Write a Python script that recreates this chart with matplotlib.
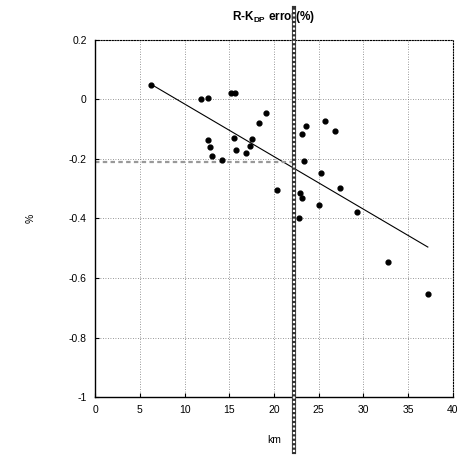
import matplotlib
matplotlib.use("Agg")
import matplotlib.pyplot as plt
import numpy as np

plt.rcParams['font.family'] = ['Liberation Sans', 'DejaVu Sans']

km = [6.3, 11.8, 12.6, 15.2, 15.6, 12.6, 12.9, 13.1, 14.2, 15.5, 15.8, 16.9, 17.3, 17.5,
      18.3, 19.1, 20.3, 23.1, 23.6, 25.7, 26.8, 23.3, 25.3, 27.4, 22.9, 23.1, 25.0, 29.3,
      22.8, 32.8, 37.2]
err = [0.05, 0.0, 0.005, 0.02, 0.022, -0.135, -0.16, -0.19, -0.203, -0.131, -0.171, -0.18,
       -0.158, -0.133, -0.08, -0.045, -0.306, -0.115, -0.088, -0.072, -0.105, -0.208, -0.248,
       -0.296, -0.313, -0.33, -0.356, -0.379, -0.399, -0.545, -0.654]
fit_x = [6.3, 37.2]
fit_y = [0.05, -0.496]
vline_x = 22.2
hline_y = -0.21
xticks = [0, 5, 10, 15, 20, 25, 30, 35, 40]
yticks = [-1, -0.8, -0.6, -0.4, -0.2, 0, 0.2]
yticklabels = ['-1', '-0.8', '-0.6', '-0.4', '-0.2', '0', '0.2']

fig = plt.figure(figsize=(4.64, 4.58), dpi=100)
ax = fig.add_axes([0.205, 0.133, 0.771, 0.78])

ax.set_xlim(0, 40)
ax.set_ylim(-1, 0.2)
ax.set_xticks(xticks)
ax.set_yticks(yticks)
ax.set_yticklabels(yticklabels)
ax.tick_params(direction='in', length=3, labelsize=7.5, pad=6)
ax.grid(True, linestyle=(0, (1, 2)), color='#777777', linewidth=0.6)
ax.set_axisbelow(True)
for s in ['top', 'right']:
    ax.spines[s].set_linestyle((0, (1, 1.5)))
    ax.spines[s].set_linewidth(0.8)
for s in ['left', 'bottom']:
    ax.spines[s].set_linewidth(1.0)

ax.plot(fit_x, fit_y, color='black', linewidth=0.8)
ax.scatter(km, err, s=12, color='black', zorder=3)

ax.plot([0, vline_x], [hline_y, hline_y], color='#999999', linewidth=1.6,
        linestyle=(0, (2, 1.5)))

trans = ax.get_xaxis_transform()
ax.plot([vline_x, vline_x], [-0.155, 1.09], transform=trans, color='#333333',
        linewidth=3.0, clip_on=False, zorder=4)
ax.plot([vline_x, vline_x], [-0.155, 1.09], transform=trans, color='white',
        linewidth=1.6, linestyle=(0, (1, 1)), clip_on=False, zorder=5)

ax.set_title('R-K$_{\\mathregular{DP}}$ error(%)', fontsize=8.5, fontweight='bold', pad=14)
ax.set_xlabel('km', fontsize=7.5, labelpad=14)
ax.set_ylabel('%', fontsize=7.5, labelpad=24)

fig.savefig('out.png', dpi=100)
